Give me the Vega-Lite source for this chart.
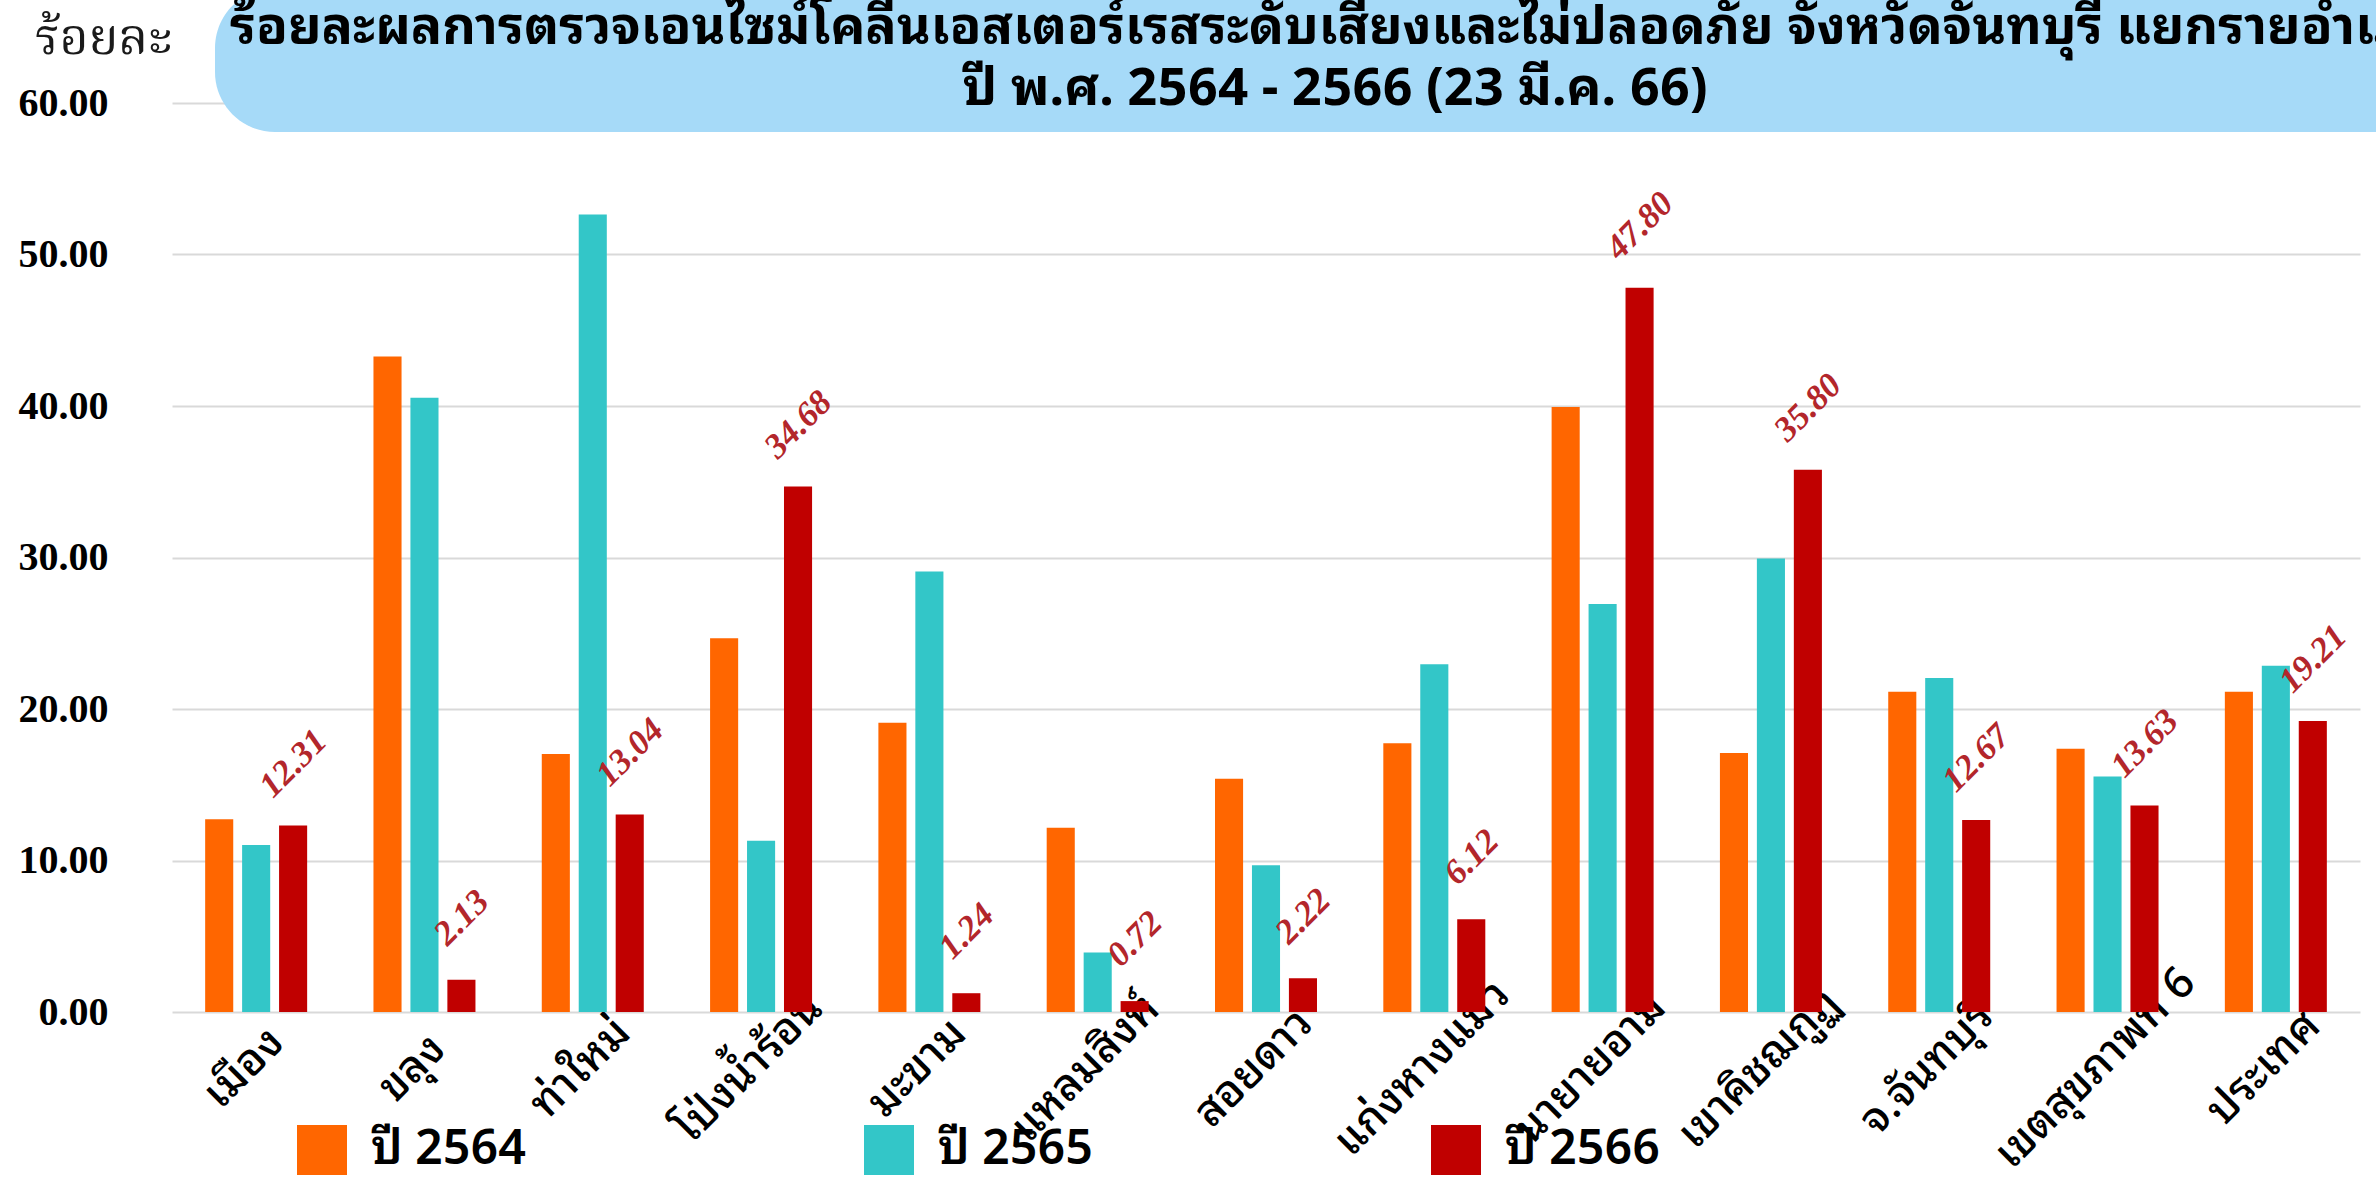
{
  "$schema": "https://vega.github.io/schema/vega-lite/v6.json",
  "width": 2188,
  "height": 909,
  "autosize": {"type": "none"},
  "padding": {"left": 172, "top": 103, "right": 16, "bottom": 170},
  "background": "white",
  "config": {"view": {"stroke": null}},
  "data": {
    "values": [
      {"district": "เมือง", "year": "ปี 2564", "value": 12.73},
      {"district": "เมือง", "year": "ปี 2565", "value": 11.03},
      {"district": "เมือง", "year": "ปี 2566", "value": 12.31},
      {"district": "ขลุง", "year": "ปี 2564", "value": 43.26},
      {"district": "ขลุง", "year": "ปี 2565", "value": 40.54},
      {"district": "ขลุง", "year": "ปี 2566", "value": 2.13},
      {"district": "ท่าใหม่", "year": "ปี 2564", "value": 17.03},
      {"district": "ท่าใหม่", "year": "ปี 2565", "value": 52.64},
      {"district": "ท่าใหม่", "year": "ปี 2566", "value": 13.04},
      {"district": "โป่งน้ำร้อน", "year": "ปี 2564", "value": 24.67},
      {"district": "โป่งน้ำร้อน", "year": "ปี 2565", "value": 11.30},
      {"district": "โป่งน้ำร้อน", "year": "ปี 2566", "value": 34.68},
      {"district": "มะขาม", "year": "ปี 2564", "value": 19.10},
      {"district": "มะขาม", "year": "ปี 2565", "value": 29.07},
      {"district": "มะขาม", "year": "ปี 2566", "value": 1.24},
      {"district": "แหลมสิงห์", "year": "ปี 2564", "value": 12.16},
      {"district": "แหลมสิงห์", "year": "ปี 2565", "value": 3.93},
      {"district": "แหลมสิงห์", "year": "ปี 2566", "value": 0.72},
      {"district": "สอยดาว", "year": "ปี 2564", "value": 15.39},
      {"district": "สอยดาว", "year": "ปี 2565", "value": 9.69},
      {"district": "สอยดาว", "year": "ปี 2566", "value": 2.22},
      {"district": "แก่งหางแมว", "year": "ปี 2564", "value": 17.74},
      {"district": "แก่งหางแมว", "year": "ปี 2565", "value": 22.96},
      {"district": "แก่งหางแมว", "year": "ปี 2566", "value": 6.12},
      {"district": "นายายอาม", "year": "ปี 2564", "value": 39.93},
      {"district": "นายายอาม", "year": "ปี 2565", "value": 26.93},
      {"district": "นายายอาม", "year": "ปี 2566", "value": 47.80},
      {"district": "เขาคิชฌกูฏ", "year": "ปี 2564", "value": 17.10},
      {"district": "เขาคิชฌกูฏ", "year": "ปี 2565", "value": 29.93},
      {"district": "เขาคิชฌกูฏ", "year": "ปี 2566", "value": 35.80},
      {"district": "จ.จันทบุรี", "year": "ปี 2564", "value": 21.14},
      {"district": "จ.จันทบุรี", "year": "ปี 2565", "value": 22.05},
      {"district": "จ.จันทบุรี", "year": "ปี 2566", "value": 12.67},
      {"district": "เขตสุขภาพที่ 6", "year": "ปี 2564", "value": 17.38},
      {"district": "เขตสุขภาพที่ 6", "year": "ปี 2565", "value": 15.55},
      {"district": "เขตสุขภาพที่ 6", "year": "ปี 2566", "value": 13.63},
      {"district": "ประเทศ", "year": "ปี 2564", "value": 21.14},
      {"district": "ประเทศ", "year": "ปี 2565", "value": 22.85},
      {"district": "ประเทศ", "year": "ปี 2566", "value": 19.21}
    ]
  },
  "encoding": {
    "x": {
      "field": "district",
      "type": "nominal",
      "sort": null,
      "scale": {"paddingInner": 0.394, "paddingOuter": 0.197},
      "axis": {
        "title": null,
        "labelAngle": -45,
        "labelAlign": "center",
        "labelBaseline": "middle",
        "labelFont": "Noto Sans Thai Looped, Noto Sans Thai, Kanit, Prompt, Sarabun, Garuda, Loma, Noto Sans, sans-serif",
        "labelFontSize": 44,
        "labelFontWeight": 500,
        "labelColor": "black",
        "labelPadding": 56,
        "labelOffset": -12,
        "labelLimit": 500,
        "labelOverlap": false,
        "ticks": false,
        "domain": false,
        "grid": false
      }
    },
    "xOffset": {"field": "year", "type": "nominal", "scale": {"paddingInner": 0.24, "paddingOuter": 0}},
    "y": {
      "field": "value",
      "type": "quantitative",
      "scale": {"domain": [0, 60], "nice": false},
      "axis": {
        "title": "ร้อยละ",
        "titleAngle": 0,
        "titleX": -69,
        "titleY": -50,
        "titleAlign": "center",
        "titleBaseline": "alphabetic",
        "titleFont": "Noto Serif Thai, Noto Sans Thai Looped, Noto Sans Thai, serif",
        "titleFontSize": 50,
        "titleFontWeight": "normal",
        "titleColor": "#1a1a1a",
        "values": [0, 10, 20, 30, 40, 50, 60],
        "format": ".2f",
        "labelFont": "Liberation Serif",
        "labelFontSize": 40,
        "labelFontWeight": "bold",
        "labelColor": "black",
        "labelPadding": 64,
        "labelFlush": false,
        "labelOverlap": false,
        "ticks": false,
        "domain": false,
        "gridColor": "#d9d9d9",
        "gridWidth": 2
      }
    }
  },
  "layer": [
    {
      "mark": {"type": "bar"},
      "encoding": {
        "color": {
          "field": "year",
          "type": "nominal",
          "scale": {"domain": ["ปี 2564", "ปี 2565", "ปี 2566"], "range": ["#FF6600", "#33C6C8", "#C00000"]},
          "legend": {
            "orient": "none",
            "legendX": 125,
            "legendY": 1022,
            "direction": "horizontal",
            "title": null,
            "symbolType": "square",
            "symbolSize": 2500,
            "symbolStrokeWidth": 0,
            "labelFont": "Noto Sans Thai Looped, Noto Sans Thai, Kanit, Prompt, Sarabun, Garuda, Loma, Noto Sans, sans-serif",
            "labelFontSize": 48,
            "labelFontWeight": 600,
            "labelColor": "black",
            "labelOffset": 24,
            "labelLimit": 500,
            "columnPadding": 338,
            "padding": 0
          }
        }
      }
    },
    {
      "transform": [{"filter": "datum.year == 'ปี 2566'"}],
      "mark": {
        "type": "text",
        "angle": 315,
        "align": "center",
        "baseline": "middle",
        "dx": 44,
        "dy": -44,
        "font": "Liberation Serif",
        "fontStyle": "italic",
        "fontWeight": "bold",
        "fontSize": 35,
        "color": "#B3262B"
      },
      "encoding": {"text": {"field": "value", "type": "quantitative", "format": ".2f"}}
    },
    {
      "transform": [{"filter": "datum.year == 'ปี 2566'"}],
      "mark": {"type": "point", "opacity": 0},
      "encoding": {
        "shape": {
          "datum": "t",
          "type": "nominal",
          "legend": {
            "orient": "none",
            "legendX": 43,
            "legendY": -115,
            "title": ["ร้อยละผลการตรวจเอนไซม์โคลีนเอสเตอร์เรสระดับเสี่ยงและไม่ปลอดภัย จังหวัดจันทบุรี แยกรายอำเภอ", "ปี พ.ศ. 2564 - 2566 (23 มี.ค. 66)"],
            "titleFont": "Noto Sans Thai Looped, Noto Sans Thai, Kanit, Prompt, Sarabun, Garuda, Loma, Noto Sans, sans-serif",
            "titleFontSize": 52,
            "titleFontWeight": "bold",
            "titleColor": "black",
            "titleLineHeight": 61,
            "titleAlign": "center",
            "titleAnchor": "middle",
            "titleLimit": 4000,
            "titlePadding": 0,
            "fillColor": "#A6DAF8",
            "cornerRadius": 60,
            "padding": 15,
            "symbolSize": 0,
            "symbolOpacity": 0,
            "symbolStrokeWidth": 0,
            "labelFontSize": 1,
            "labelExpr": "''",
            "labelOpacity": 0
          }
        }
      }
    }
  ]
}
